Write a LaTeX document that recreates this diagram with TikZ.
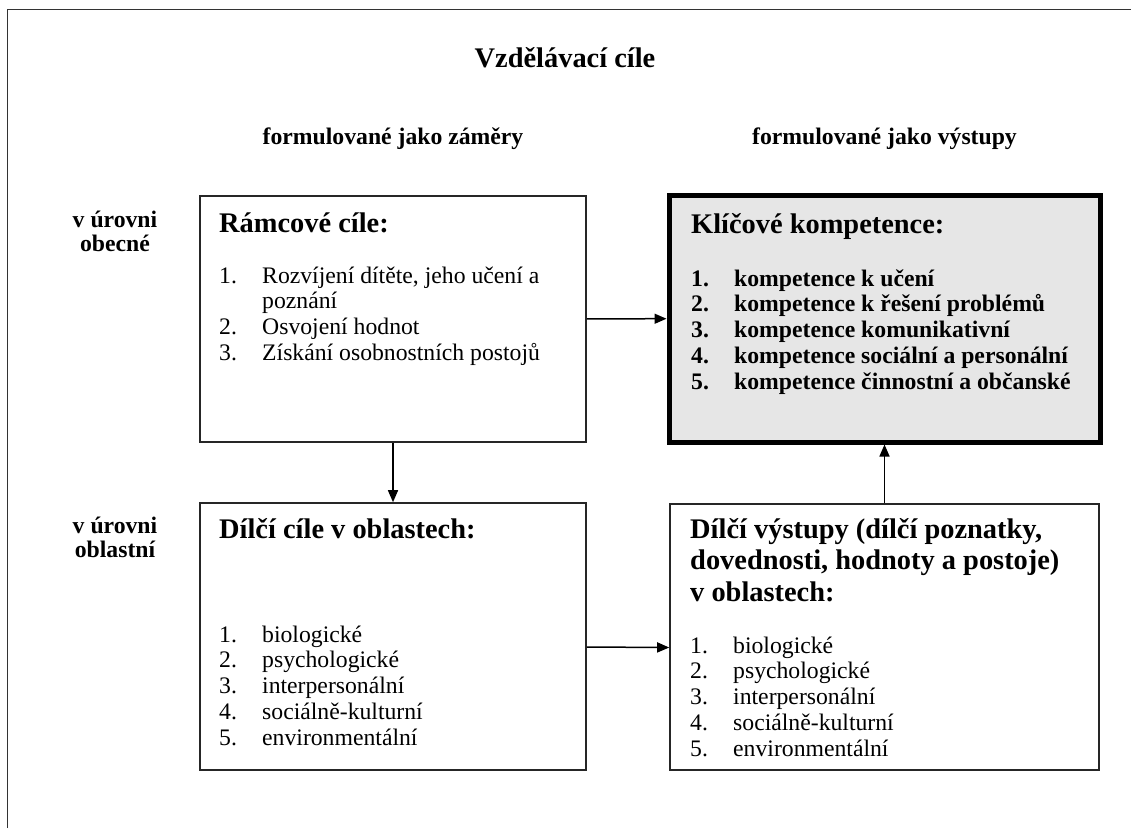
\documentclass[tikz,border=0pt]{standalone}
\usepackage{fontspec}
\setmainfont{Liberation Serif}
\usetikzlibrary{arrows.meta}

\definecolor{keygray}{HTML}{E6E6E6}
\newcommand{\headfont}{\fontsize{28.4}{31.5}\selectfont\bfseries}
\newcommand{\listfont}{\fontsize{23.7}{25.8}\selectfont}
\newcommand{\levelfont}{\fontsize{23.7}{24}\selectfont\bfseries}
\newcommand{\itemno}[1]{\makebox[43pt][l]{#1}}

\begin{document}
\begin{tikzpicture}[x=1pt, y=1pt,
    box/.style={draw=black!85, line width=1.6pt, fill=white, inner sep=0pt},
    keybox/.style={draw=black, line width=5pt, fill=keygray, inner sep=0pt},
    head/.style={font=\headfont, inner sep=0pt, align=left},
    items/.style={font=\listfont, inner sep=0pt, align=left},
    level/.style={font=\levelfont, inner sep=0pt, align=center},
    arr/.style={line width=1.5pt, -{Triangle[length=12pt, width=10pt]}}]
\useasboundingbox (0,-828) rectangle (1131,0);
\draw[line width=1.5pt, black!80] (7.5,-828) |- (1131,-9.5);

% headings
\node[head, anchor=base] (title) at (565,-67) {Vzdělávací cíle};
\node[level, anchor=base] (zamery) at (393,-144) {formulované jako záměry};
\node[level, anchor=base] (vystupy) at (884.5,-144) {formulované jako výstupy};
\node[level] (obecne) at (115,-231) {v úrovni\\obecné};
\node[level] (oblastni) at (115,-537) {v úrovni\\oblastní};

% boxes
\node[box, minimum width=386pt, minimum height=246pt] (ramcove) at (393,-319) {};
\node[keybox, minimum width=431pt, minimum height=247pt] (klicove) at (884.5,-318.5) {};
\node[box, minimum width=386pt, minimum height=267pt] (dilcicile) at (393,-636.5) {};
\node[box, minimum width=429pt, minimum height=266pt] (dilcivystupy) at (884.5,-637) {};

% box texts
\node[head, anchor=base west] (ramcove-h) at (219,-232) {Rámcové cíle:};
\node[items, anchor=north west] (ramcove-l) at (219,-264.9)
  {\strut\itemno{1.}Rozvíjení dítěte, jeho učení a\\\itemno{}poznání\\
   \itemno{2.}Osvojení hodnot\\\itemno{3.}Získání osobnostních postojů};

\node[head, anchor=base west] (klicove-h) at (691,-233) {Klíčové kompetence:};
\node[items, font=\listfont\bfseries, anchor=north west] (klicove-l) at (691,-267.9)
  {\strut\itemno{1.}kompetence k učení\\\itemno{2.}kompetence k řešení problémů\\
   \itemno{3.}kompetence komunikativní\\\itemno{4.}kompetence sociální a personální\\
   \itemno{5.}kompetence činnostní a občanské};

\node[head, anchor=base west] (dilcicile-h) at (219,-538) {Dílčí cíle v oblastech:};
\node[items, anchor=north west] (dilcicile-l) at (219,-623.9)
  {\strut\itemno{1.}biologické\\\itemno{2.}psychologické\\\itemno{3.}interpersonální\\
   \itemno{4.}sociálně-kulturní\\\itemno{5.}environmentální};

\node[head, anchor=north west] (dilcivystupy-h) at (690,-515.95)
  {\strut Dílčí výstupy (dílčí poznatky,\\dovednosti, hodnoty a postoje)\\v oblastech:};
\node[items, anchor=north west] (dilcivystupy-l) at (690,-634.9)
  {\strut\itemno{1.}biologické\\\itemno{2.}psychologické\\\itemno{3.}interpersonální\\
   \itemno{4.}sociálně-kulturní\\\itemno{5.}environmentální};

% arrows
\draw[arr] (ramcove) -- (klicove);
\draw[arr] (ramcove) -- (dilcicile);
\draw[arr] ([yshift=-10.5pt]dilcicile.east) -- ([yshift=-10.5pt]dilcivystupy.west);
\draw[arr] (dilcivystupy) -- (klicove);
\end{tikzpicture}
\end{document}
